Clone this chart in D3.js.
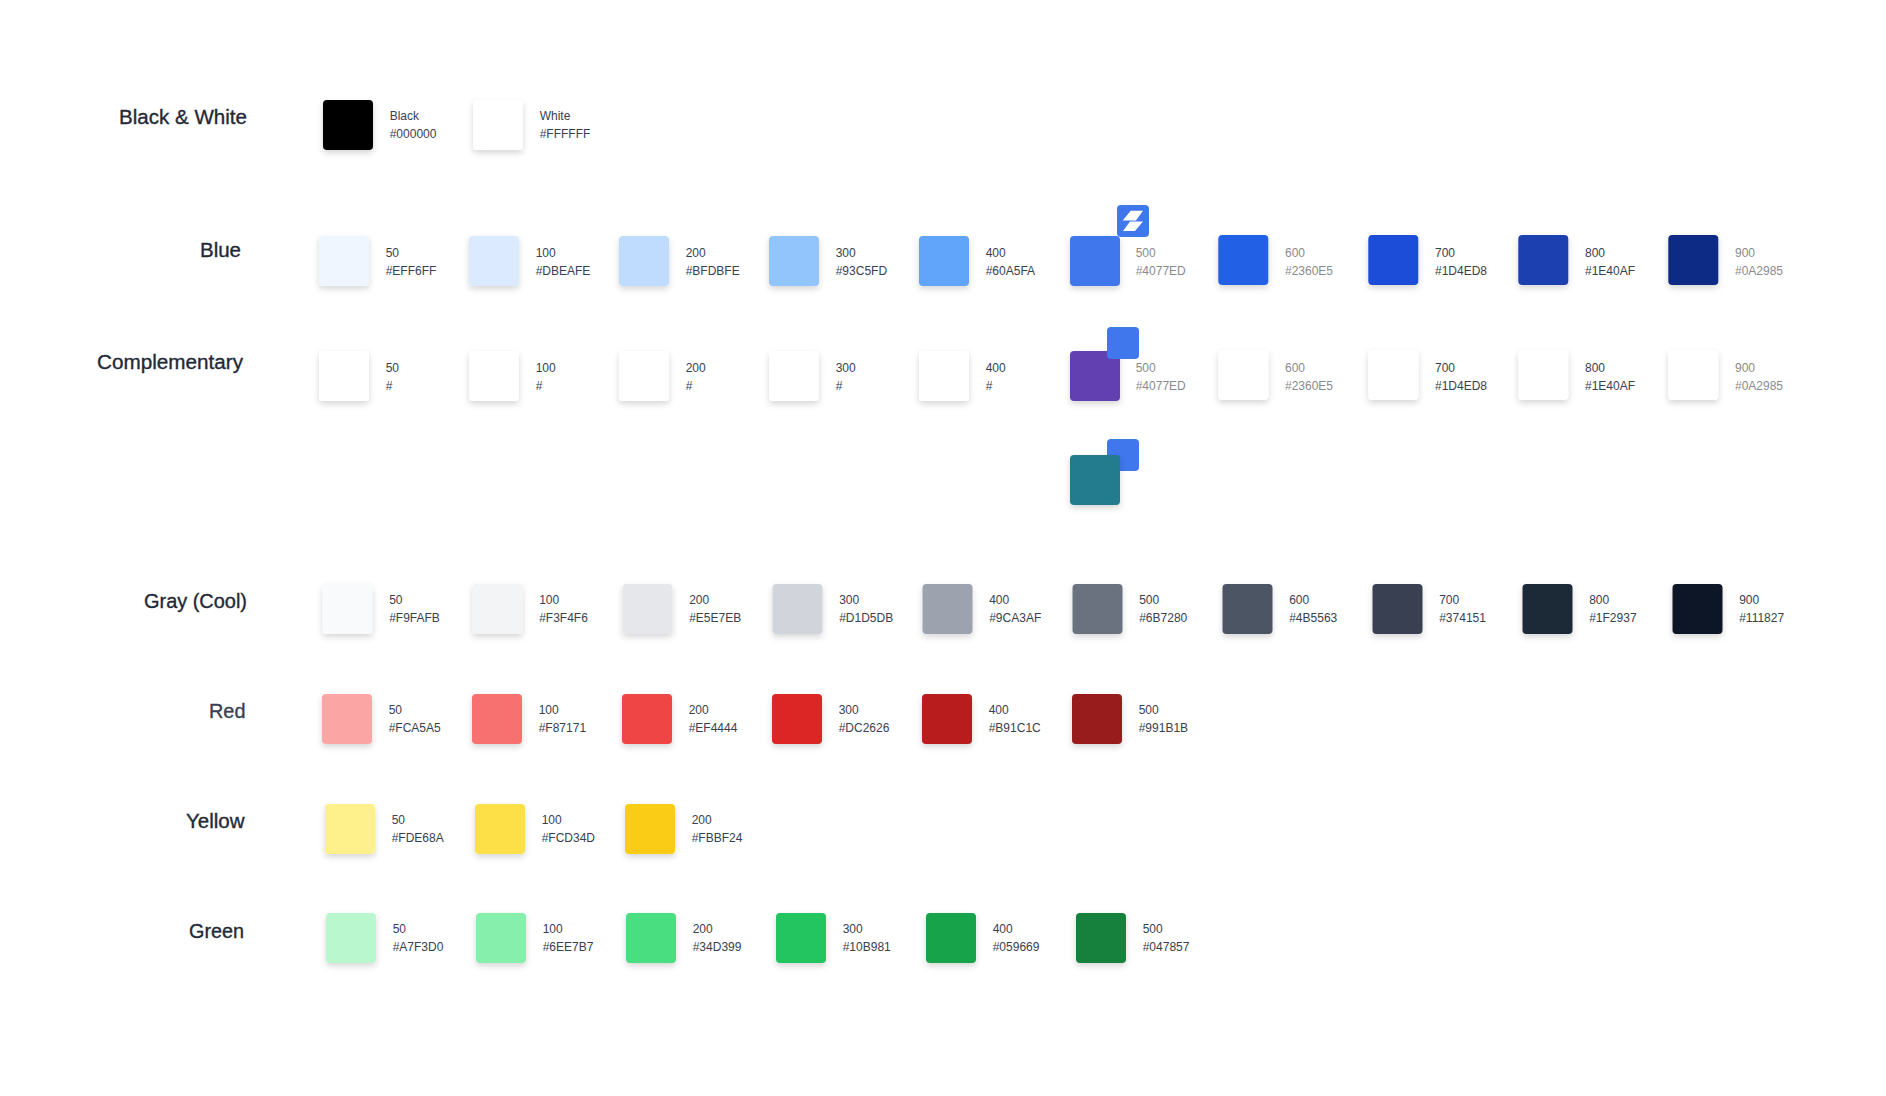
<!DOCTYPE html>
<html><head><meta charset="utf-8">
<style>html,body{margin:0;padding:0;background:#fff}svg{display:block}text{font-family:"Liberation Sans",Helvetica,Arial,sans-serif}</style>
<script src="https://cdn.jsdelivr.net/npm/d3@7/dist/d3.min.js"></script></head><body>
<script>
const steps=["50","100","200","300","400","500","600","700","800","900"];
const blueHex=["#EFF6FF","#DBEAFE","#BFDBFE","#93C5FD","#60A5FA","#4077ED","#2360E5","#1D4ED8","#1E40AF","#0A2985"];
const complementaryHex=["#","#","#","#","#","#4077ED","#2360E5","#1D4ED8","#1E40AF","#0A2985"];
const complementaryFill=["#FFFFFF","#FFFFFF","#FFFFFF","#FFFFFF","#FFFFFF","#6440B1","#FFFFFF","#FFFFFF","#FFFFFF","#FFFFFF"];
const grayHex=["#F9FAFB","#F3F4F6","#E5E7EB","#D1D5DB","#9CA3AF","#6B7280","#4B5563","#374151","#1F2937","#111827"];
const redHex=["#FCA5A5","#F87171","#EF4444","#DC2626","#B91C1C","#991B1B"];
const yellowHex=["#FDE68A","#FCD34D","#FBBF24"];
const greenHex=["#A7F3D0","#6EE7B7","#34D399","#10B981","#059669","#047857"];
const greenFill=["#B9F7CE","#86EFAC","#4ADE80","#22C55E","#16A34A","#15803D"];
const yellowFill=["#FEF08A","#FDE047","#FACC15"];
const bwNames=["Black","White"];
const bwHex=["#000000","#FFFFFF"];
const tealFill="#237B8E";
const tileFill="#4077ED";

const rows=[
 {title:"Black & White",labels:bwNames,hex:bwHex,fill:bwHex,x0:323,y:100,tb:124,tr:247,tw:128},
 {title:"Blue",labels:steps,hex:blueHex,fill:blueHex,x0:319,y:236,tb:257,tr:241,tw:41},
 {title:"Complementary",labels:steps,hex:complementaryHex,fill:complementaryFill,x0:319,y:351,tb:369,tr:243,tw:146},
 {title:"Gray (Cool)",labels:steps,hex:grayHex,fill:grayHex,x0:322.5,y:584,tb:608,tr:247,tw:103},
 {title:"Red",labels:steps.slice(0,6),hex:redHex,fill:redHex,x0:322,y:694,tb:718,tr:245.5,tw:36.5},
 {title:"Yellow",labels:steps.slice(0,3),hex:yellowHex,fill:yellowFill,x0:325,y:804,tb:828,tr:244.5,tw:58.5},
 {title:"Green",labels:steps.slice(0,6),hex:greenHex,fill:greenFill,x0:326,y:913,tb:938,tr:244,tw:55}
];
const W=1886,H=1096,S=50;
const svg=d3.select("body").append("svg").attr("width",W).attr("height",H).attr("viewBox",`0 0 ${W} ${H}`);
const f=svg.append("defs").append("filter").attr("id","sh").attr("x","-30%").attr("y","-30%").attr("width","160%").attr("height","170%");
f.append("feDropShadow").attr("dx",0).attr("dy",3).attr("stdDeviation",3).attr("flood-color","#000").attr("flood-opacity",0.16);

const col=d3.scaleLinear().domain([0,9]).range([0,1350]);
function tile(g,x,y){g.append("rect").attr("x",x).attr("y",y).attr("width",32).attr("height",32).attr("rx",4).attr("fill",tileFill);}
const brandRow=r=>r.title==="Blue"||r.title==="Complementary";

rows.forEach(r=>{
  const g=svg.append("g");
  const titleColor=r.title==="Red"?"#374151":"#1F2937";
  g.append("text").attr("x",r.tr).attr("y",r.tb).attr("text-anchor","end").attr("font-size",20.5)
    .attr("textLength",r.tw).attr("lengthAdjust","spacingAndGlyphs")
    .attr("fill",titleColor).attr("stroke",titleColor).attr("stroke-width",0.35).text(r.title);
  const items=r.labels.map((l,i)=>({l,i,hex:r.hex[i],fill:r.fill[i]}));
  const dx=d=>!brandRow(r)?0:d.i===5?1:d.i>5?-0.7:0;
  const dy=d=>brandRow(r)&&d.i>5?-1:0;
  const tdx=d=>!brandRow(r)?66.7:d.i===5?65.7:66.7;
  const cell=g.selectAll("g").data(items).join("g").attr("transform",d=>`translate(${r.x0+col(d.i)},0)`);
  if(r.title==="Blue")tile(g,r.x0+col(5)+48,205);
  if(r.title==="Complementary")tile(g,r.x0+col(5)+38,327);
  cell.append("rect").attr("x",dx).attr("y",d=>r.y+dy(d)).attr("width",S).attr("height",S).attr("rx",4).attr("fill",d=>d.fill).attr("filter","url(#sh)");
  const grey=d=>brandRow(r)&&(d.i===5||d.i===6||d.i===9);
  const lb=brandRow(r)?20.7:20;
  const color=d=>grey(d)?"#8A8A8E":"#374151";
  cell.append("text").attr("x",d=>dx(d)+tdx(d)).attr("y",r.y+lb).attr("font-size",12).attr("fill",color).text(d=>d.l);
  cell.append("text").attr("x",d=>dx(d)+tdx(d)).attr("y",r.y+lb+18).attr("font-size",12).attr("fill",color).text(d=>d.hex);
});
const tg=svg.append("g");
tile(tg,rows[2].x0+col(5)+38,439);
tg.append("rect").attr("x",rows[2].x0+col(5)+1).attr("y",455).attr("width",S).attr("height",S).attr("rx",4).attr("fill",tealFill).attr("filter","url(#sh)");
const mark=svg.append("g").attr("transform",`translate(${rows[1].x0+col(5)+48},205)`).attr("fill","#fff");
mark.append("path").attr("d","M13.7 5.7H26L19 15.4H5.7Z");
mark.append("path").attr("d","M13 16.6H26L18 26H6Z");
</script></body></html>
